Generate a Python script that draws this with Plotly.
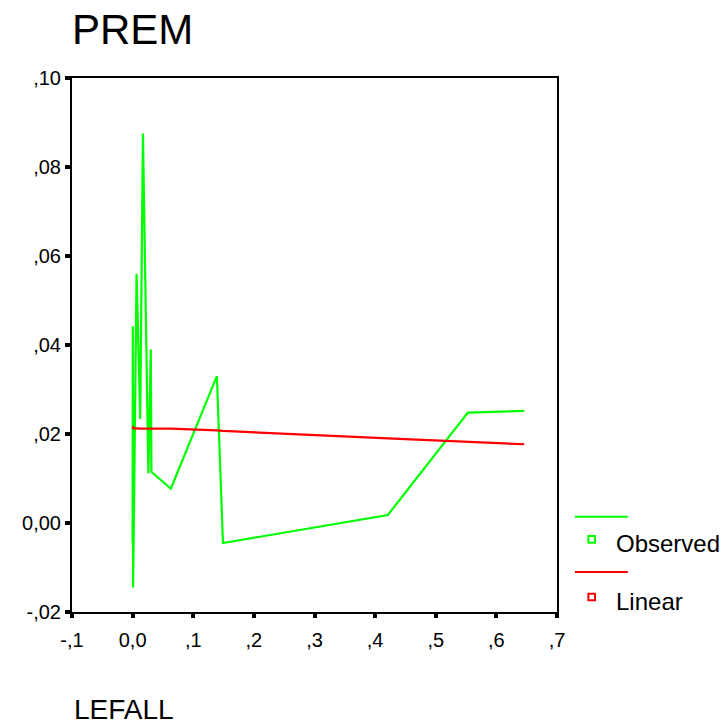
import plotly.graph_objects as go

# ---- data ----
lefall = [0.0000, 0.0003, 0.0008, 0.0065, 0.0125, 0.0170, 0.0260, 0.0300, 0.0310,
          0.0630, 0.1390, 0.1490, 0.4210, 0.5530, 0.6460]
observed = [-0.0045, 0.0442, -0.0145, 0.0560, 0.0234, 0.0875, 0.0112, 0.0390, 0.0115,
            0.0077, 0.0330, -0.0045, 0.0018, 0.0248, 0.0252]
linear = [0.0216, 0.0216, 0.0213, 0.0212, 0.0212, 0.0212, 0.0212, 0.0212, 0.0212,
          0.0212, 0.0208, 0.0207, 0.0190, 0.0183, 0.0177]

x_tickvals = [-0.1, 0.0, 0.1, 0.2, 0.3, 0.4, 0.5, 0.6, 0.7]
x_ticktext = ["-,1", "0,0", ",1", ",2", ",3", ",4", ",5", ",6", ",7"]
y_tickvals = [-0.02, 0.0, 0.02, 0.04, 0.06, 0.08, 0.10]
y_ticktext = ["-,02", "0,00", ",02", ",04", ",06", ",08", ",10"]

series_names = ["Observed", "Linear"]
series_colors = ["#00FF00", "#FF0000"]

FONT = "Liberation Sans, Arial, sans-serif"

W, H = 723, 725

fig = go.Figure()
fig.add_trace(go.Scatter(x=lefall, y=observed, mode="lines", name=series_names[0],
                         line=dict(color=series_colors[0], width=2.2), showlegend=False))
fig.add_trace(go.Scatter(x=lefall, y=linear, mode="lines", name=series_names[1],
                         line=dict(color=series_colors[1], width=2.2), showlegend=False))

axis_common = dict(showgrid=False, zeroline=False, showline=True, linecolor="black",
                   linewidth=2, mirror=True, ticks="outside", tickcolor="black",
                   tickfont=dict(family=FONT, size=20, color="black"))

fig.update_xaxes(range=[-0.1, 0.7], tickvals=x_tickvals, ticktext=x_ticktext,
                 ticklen=4, tickwidth=4, ticklabelstandoff=5, **axis_common)
fig.update_yaxes(range=[-0.02, 0.10], tickvals=y_tickvals, ticktext=y_ticktext,
                 ticklen=5, tickwidth=4, **axis_common)

# manual legend (SPSS style: line above, marker + label below)
legend_items = [(series_names[0], series_colors[0], 0.1785, 0.136),
                (series_names[1], series_colors[1], 0.0749, 0.0281)]
shapes = []
annotations = []
for name, col, ly, my in legend_items:
    shapes.append(dict(type="line", xref="paper", yref="paper", x0=1.037, x1=1.146,
                       y0=ly, y1=ly, line=dict(color=col, width=2)))
    shapes.append(dict(type="rect", xref="paper", yref="paper", x0=1.0715 - 0.0068,
                       x1=1.0715 + 0.0068, y0=my - 0.0062, y1=my + 0.0062,
                       line=dict(color=col, width=2), fillcolor="white"))
    annotations.append(dict(text=name, xref="paper", yref="paper", x=1.1175, y=my - 0.008,
                            xanchor="left", yanchor="middle", showarrow=False,
                            font=dict(family=FONT, size=24, color="black")))

annotations.append(dict(text="LEFALL", xref="paper", yref="paper", x=0.0, y=-0.1835,
                        xanchor="left", yanchor="middle", showarrow=False,
                        font=dict(family=FONT, size=28, color="black")))

fig.update_layout(
    width=W, height=H,
    margin=dict(l=72, r=166, t=78, b=113),
    paper_bgcolor="white", plot_bgcolor="white",
    title=dict(text="PREM", x=72 / W, xanchor="left", y=1 - 29 / H, yanchor="middle",
               font=dict(family=FONT, size=42, color="black")),
    shapes=shapes, annotations=annotations, showlegend=False,
)

fig.write_html("out.html", config={"displayModeBar": False},
               post_script="document.body.style.margin='0px';"
                           "document.body.style.overflow='hidden';")
